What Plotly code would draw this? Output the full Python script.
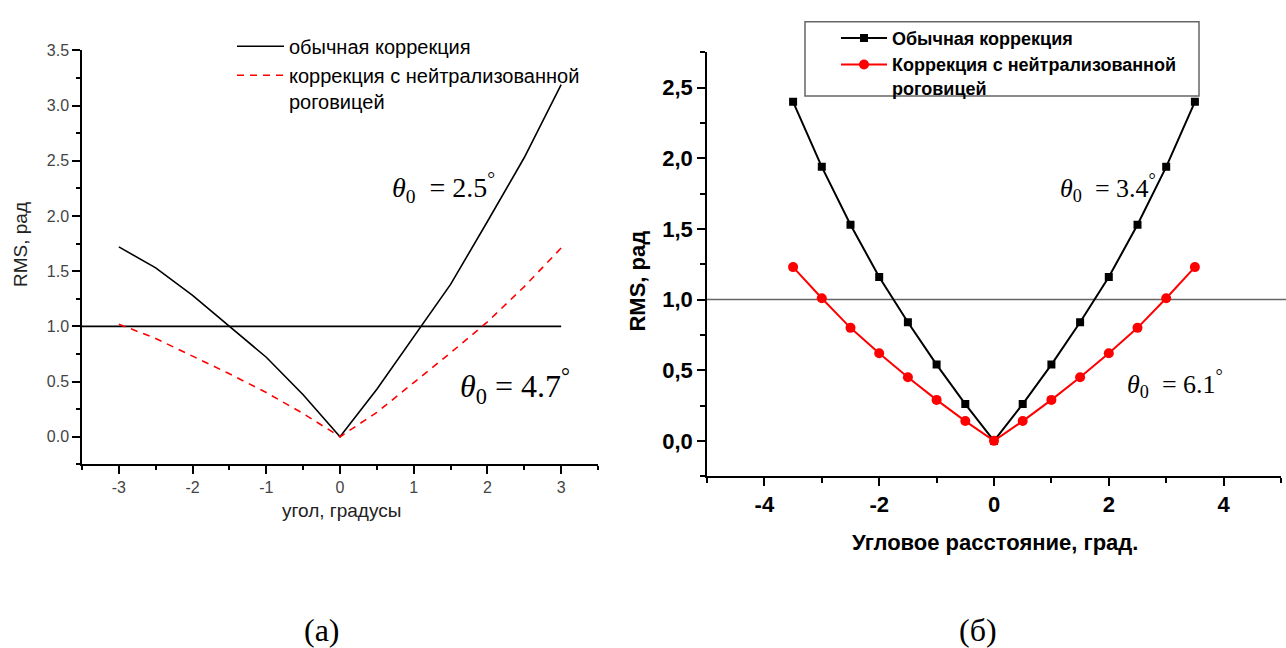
import plotly.graph_objects as go

W, H = 1286, 648

# ---------------- data ----------------
x_a = [-3, -2.5, -2, -1.5, -1, -0.5, 0, 0.5, 1, 1.5, 2, 2.5, 3]
rms_usual_a = [1.72, 1.53, 1.28, 1.00, 0.72, 0.38, 0.0, 0.43, 0.90, 1.38, 1.95, 2.53, 3.19]
rms_neutral_a = [1.02, 0.89, 0.73, 0.57, 0.40, 0.21, 0.0, 0.22, 0.49, 0.76, 1.04, 1.36, 1.71]

x_b = [-3.5, -3, -2.5, -2, -1.5, -1, -0.5, 0, 0.5, 1, 1.5, 2, 2.5, 3, 3.5]
rms_usual_b = [2.40, 1.94, 1.53, 1.16, 0.84, 0.54, 0.26, 0.0, 0.26, 0.54, 0.84, 1.16, 1.53, 1.94, 2.40]
rms_neutral_b = [1.23, 1.01, 0.80, 0.62, 0.45, 0.29, 0.14, 0.0, 0.14, 0.29, 0.45, 0.62, 0.80, 1.01, 1.23]

threshold = 1.0
yticks_a = [0.0, 0.5, 1.0, 1.5, 2.0, 2.5, 3.0, 3.5]
xticks_a = [-3, -2, -1, 0, 1, 2, 3]
yticks_b = [0.0, 0.5, 1.0, 1.5, 2.0, 2.5]
xticks_b = [-4, -2, 0, 2, 4]

name_usual_a = "обычная коррекция"
name_neutral_a = "коррекция с нейтрализованной<br>роговицей"
name_usual_b = "Обычная коррекция"
name_neutral_b = "Коррекция с нейтрализованной<br>роговицей"

def px(x):
    return x / W

def py(y):
    return 1 - y / H

SANS = "Liberation Sans, Arial, sans-serif"
SERIF = "Liberation Serif, Times New Roman, serif"

fig = go.Figure()

# ---- panel (a) ----
fig.add_trace(go.Scatter(x=x_a, y=rms_usual_a, mode="lines", name=name_usual_a,
                         line=dict(color="black", width=1.6), xaxis="x", yaxis="y",
                         legend="legend"))
fig.add_trace(go.Scatter(x=x_a, y=rms_neutral_a, mode="lines", name=name_neutral_a,
                         line=dict(color="#ff0000", width=1.6, dash="7px,6px"),
                         xaxis="x", yaxis="y", legend="legend"))

# ---- panel (b) ----
fig.add_trace(go.Scatter(x=x_b, y=rms_usual_b, mode="lines+markers", name=name_usual_b,
                         line=dict(color="black", width=2),
                         marker=dict(symbol="square", size=8, color="black"),
                         xaxis="x2", yaxis="y2", legend="legend2"))
fig.add_trace(go.Scatter(x=x_b, y=rms_neutral_b, mode="lines+markers", name=name_neutral_b,
                         line=dict(color="#ff0000", width=2),
                         marker=dict(symbol="circle", size=10, color="#ff0000"),
                         xaxis="x2", yaxis="y2", legend="legend2"))

# threshold lines
fig.add_shape(type="line", xref="x", yref="y", x0=-3.5, x1=3, y0=threshold, y1=threshold,
              line=dict(color="black", width=1.6), layer="below")
fig.add_shape(type="line", xref="x2 domain", yref="y2", x0=0, x1=1.01, y0=threshold, y1=threshold,
              line=dict(color="#666666", width=1.5), layer="below")

# legend box for (b)
fig.add_shape(type="rect", xref="paper", yref="paper",
              x0=px(805), x1=px(1199), y0=py(89), y1=py(14),
              line=dict(color="#666666", width=1.5), fillcolor="rgba(0,0,0,0)")

axis_common = dict(showgrid=False, zeroline=False, showline=True, linecolor="black",
                   linewidth=1.5, ticks="outside", mirror=False)

fig.update_layout(
    width=W, height=H,
    margin=dict(l=0, r=0, t=0, b=0),
    paper_bgcolor="white", plot_bgcolor="white",
    showlegend=True,
    xaxis=dict(domain=[px(82), px(598)], range=[-3.5, 3.5], anchor="y",
               tickvals=xticks_a, ticktext=[str(v) for v in xticks_a],
               ticklen=8, tickwidth=1.5, tickcolor="black",
               tickfont=dict(family=SANS, size=16, color="#444444"),
               minor=dict(dtick=0.5, tick0=0, ticks="outside", ticklen=4, tickwidth=1.5, tickcolor="black"),
               **axis_common),
    yaxis=dict(domain=[py(462), py(43)], range=[-0.25, 3.5], anchor="x",
               tickvals=yticks_a, ticktext=[f"{v:.1f}" for v in yticks_a],
               ticklen=8, tickwidth=1.5, tickcolor="black",
               tickfont=dict(family=SANS, size=16, color="#444444"),
               minor=dict(dtick=0.25, tick0=0, ticks="outside", ticklen=4, tickwidth=1.5, tickcolor="black"),
               **axis_common),
    xaxis2=dict(domain=[px(707), px(1281)], range=[-5, 5], anchor="y2",
                tickvals=xticks_b, ticktext=[str(v) for v in xticks_b],
                ticklen=8, tickwidth=1.5, tickcolor="black",
                tickfont=dict(family=SANS, size=22, color="black", weight="bold"),
                minor=dict(dtick=1, tick0=0, ticks="outside", ticklen=5, tickwidth=1.5, tickcolor="black"),
                **axis_common),
    yaxis2=dict(domain=[py(474), py(45)], range=[-0.25, 2.75], anchor="x2",
                tickvals=yticks_b, ticktext=[f"{v:.1f}".replace(".", ",") for v in yticks_b],
                ticklen=8, tickwidth=1.5, tickcolor="black",
                tickfont=dict(family=SANS, size=22, color="black", weight="bold"),
                minor=dict(dtick=0.25, tick0=0, ticks="outside", ticklen=5, tickwidth=1.5, tickcolor="black"),
                **axis_common),
    legend=dict(x=px(232), y=py(19), xanchor="left", yanchor="top",
                bgcolor="rgba(0,0,0,0)", borderwidth=0, valign="top",
                font=dict(family=SANS, size=20, color="black"),
                tracegroupgap=0, itemwidth=47),
    legend2=dict(x=px(836), y=py(12), xanchor="left", yanchor="top",
                 bgcolor="rgba(0,0,0,0)", borderwidth=0, valign="top",
                 font=dict(family=SANS, size=18, color="black", weight="bold"),
                 tracegroupgap=0, itemwidth=46),
)

annotations = [
    # axis titles (a)
    dict(text="RMS, рад", x=px(20), y=py(240), textangle=-90,
         font=dict(family=SANS, size=19, color="#222222")),
    dict(text="угол, градусы", x=px(341), y=py(509),
         font=dict(family=SANS, size=19, color="#222222")),
    # axis titles (b)
    dict(text="RMS, рад", x=px(638), y=py(277), textangle=-90,
         font=dict(family=SANS, size=22, color="black", weight="bold")),
    dict(text="Угловое расстояние, град.", x=px(995), y=py(541),
         font=dict(family=SANS, size=22, color="black", weight="bold")),
    # theta annotations
    dict(text="<i>θ</i><sub>0</sub>\u00a0 = 2.5<sup>°</sup>", x=px(390), y=py(182), xanchor="left",
         font=dict(family=SERIF, size=28, color="black")),
    dict(text="<i>θ</i><sub>0</sub> = 4.7<sup>°</sup>", x=px(458), y=py(383), xanchor="left",
         font=dict(family=SERIF, size=32, color="black")),
    dict(text="<i>θ</i><sub>0</sub>\u00a0 = 3.4<sup>°</sup>", x=px(1058), y=py(182), xanchor="left",
         font=dict(family=SERIF, size=26, color="black")),
    dict(text="<i>θ</i><sub>0</sub>\u00a0 = 6.1<sup>°</sup>", x=px(1125), y=py(381), xanchor="left",
         font=dict(family=SERIF, size=26, color="black")),
    # panel labels
    dict(text="(а)", x=px(322), y=py(630), font=dict(family=SERIF, size=32, color="black")),
    dict(text="(б)", x=px(978), y=py(630), font=dict(family=SERIF, size=32, color="black")),
]
for a in annotations:
    a.setdefault("xanchor", "center")
    a.setdefault("yanchor", "middle")
    fig.add_annotation(xref="paper", yref="paper", showarrow=False, **a)

fig.write_html("out.html")
